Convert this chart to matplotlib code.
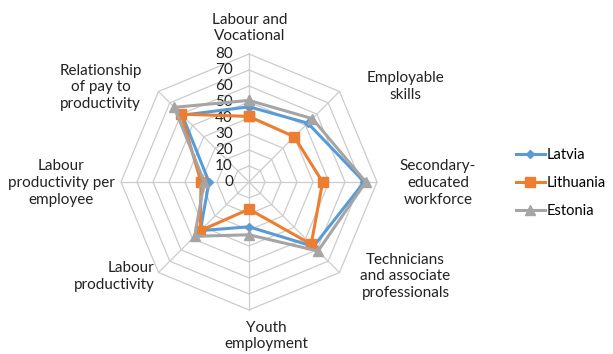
import matplotlib
matplotlib.use("Agg")
import matplotlib.pyplot as plt
import numpy as np

categories = ["Labour and\nVocational", "Employable\nskills", "Secondary-\neducated\nworkforce",
              "Technicians\nand associate\nprofessionals", "Youth\nemployment", "Labour\nproductivity",
              "Labour\nproductivity per\nemployee", "Relationship\nof pay to\nproductivity"]
latvia = [47, 52, 72, 57, 28, 43, 25, 59]
lithuania = [41, 40, 46, 55, 17, 43, 30, 60]
estonia = [51, 56, 73, 61, 33, 48, 28, 66]
levels = [0, 10, 20, 30, 40, 50, 60, 70, 80]

COLOR_LV = "#5B9BD5"
COLOR_LT = "#ED7D31"
COLOR_EE = "#A5A5A5"
GRID = "#CCCCCC"

plt.rcParams['font.family'] = ['Lato', 'DejaVu Sans']

fig = plt.figure(figsize=(6.13, 3.54), dpi=100)
ax = fig.add_axes([0.1974, 0.1243, 0.4176, 0.7232], projection="polar")
ax.set_theta_offset(np.pi / 2)
ax.set_theta_direction(-1)
ax.set_ylim(0, 80)
ax.grid(False)
ax.set_xticks([])
ax.set_yticks([])
ax.spines["polar"].set_visible(False)
ax.patch.set_visible(False)

n = len(categories)
angles = np.linspace(0, 2 * np.pi, n, endpoint=False)
closed = np.append(angles, angles[0])

# octagon grid
for lv in levels[1:]:
    ax.plot(closed, [lv] * (n + 1), color=GRID, lw=0.9, zorder=1, clip_on=False)
for a in angles:
    ax.plot([a, a], [0, 80], color=GRID, lw=0.9, zorder=1, clip_on=False)

# radial tick labels
for lv in levels:
    ax.annotate(str(lv), xy=(0, lv), xytext=(-16, 0), textcoords="offset pixels",
                ha="right", va="center", fontsize=11, color="#222222")

series = [("Latvia", latvia, COLOR_LV, "D", 4.5),
          ("Lithuania", lithuania, COLOR_LT, "s", 6.5),
          ("Estonia", estonia, COLOR_EE, "^", 6.5)]
for name, vals, col, mk, ms in series:
    v = np.append(vals, vals[0])
    ax.plot(closed, v, color=col, lw=2.2, marker=mk, markersize=ms, label=name,
            zorder=3, clip_on=False)

# category labels
offsets = [(1, 154 - 128, "center"), (66, 5, "center"), (61, -1, "center"), (66, -4, "center"),
           (17, -26, "center"), (-4, -4, "right"), (-60, -1, "center"), (-58, 4, "center")]
for a, lab, (dx, dy, ha) in zip(angles, categories, offsets):
    ax.annotate(lab, xy=(a, 80), xytext=(dx, dy), textcoords="offset pixels",
                ha=ha, va="center", multialignment=ha, fontsize=11, color="#222222",
                linespacing=1.25, annotation_clip=False)

leg = fig.legend(loc="center left", bbox_to_anchor=(0.82, 0.483), frameon=False,
                 fontsize=10.5, handlelength=2.0, handletextpad=0.1, labelspacing=0.95,
                 borderpad=0.4)

fig.savefig("out.png", dpi=100)
